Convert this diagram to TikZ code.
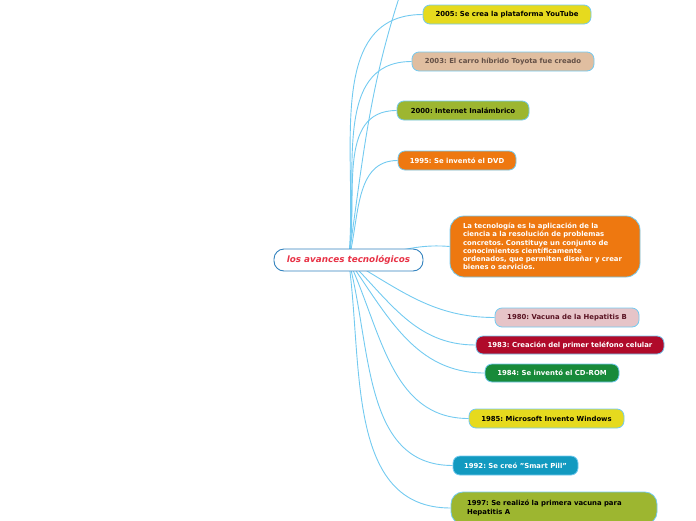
\documentclass[tikz,border=0pt]{standalone}
\usepackage{fontspec}
\setmainfont{DejaVu Sans}
\usetikzlibrary{positioning, backgrounds}
\definecolor{linkblue}{RGB}{115,202,240}
\definecolor{rootblue}{RGB}{50,130,190}
\definecolor{rootred}{RGB}{232,50,70}
\definecolor{yellow1}{RGB}{230,218,30}
\definecolor{tan1}{RGB}{224,190,160}
\definecolor{tantext}{RGB}{100,80,70}
\definecolor{olive1}{RGB}{157,182,48}
\definecolor{orange1}{RGB}{238,120,16}
\definecolor{pink1}{RGB}{230,196,200}
\definecolor{pinktext}{RGB}{90,20,35}
\definecolor{crimson1}{RGB}{176,10,42}
\definecolor{green1}{RGB}{24,138,58}
\definecolor{teal1}{RGB}{18,154,192}
\hyphenpenalty=10000
\frenchspacing

\begin{document}
\begin{tikzpicture}[x=1pt, y=-1pt,
  evbox/.style={draw=linkblue, line width=0.8pt, rounded corners=7pt, minimum height=19pt, inner sep=0pt,
                font=\fontsize{6.9}{8.2}\selectfont\bfseries},
  link/.style={draw=linkblue, line width=0.9pt}
]
  \useasboundingbox (0,0) rectangle (696,520);
  % central topic
  \node[draw=rootblue, line width=0.9pt, fill=white, rounded corners=10pt, minimum width=149pt, minimum height=22pt, inner sep=0pt,
        font=\fontsize{8.8}{10}\selectfont\bfseries\itshape, text=rootred] (root) at (348.5,260) {los avances tecnológicos};
  \coordinate (top) at (412,-40);

  % events
  \node[evbox, fill=yellow1, minimum width=168pt] (yt) at (507,14.5) {2005: Se crea la plataforma YouTube};
  \node[evbox, fill=tan1, text=tantext, minimum width=182pt] (toy) at (503,61.5) {2003: El carro híbrido Toyota fue creado};
  \node[evbox, fill=olive1, minimum width=132pt] (inet) at (463,110.5) {2000: Internet Inalámbrico};
  \node[evbox, fill=orange1, text=white, minimum width=118pt] (dvd) at (457,160.5) {1995: Se inventó el DVD};
  \node[evbox, fill=orange1, text=white, rounded corners=14pt, minimum width=190pt, minimum height=61pt,
        text width=164pt, align=left] (info) at (545,246.5)
        {La tecnología es la aplicación de la\\ ciencia a la resolución de problemas\\ concretos. Constituye un conjunto de\\ conocimientos científicamente\\ ordenados, que permiten diseñar y crear\\ bienes o servicios.};
  \node[evbox, fill=pink1, text=pinktext, minimum width=144pt] (hepb) at (567,317.5) {1980: Vacuna de la Hepatitis B};
  \node[evbox, fill=crimson1, text=white, minimum width=188pt, minimum height=18pt] (cel) at (570,345) {1983: Creación del primer teléfono celular};
  \node[evbox, fill=green1, text=white, minimum width=134pt, minimum height=18pt] (cd) at (552,373) {1984: Se inventó el CD-ROM};
  \node[evbox, fill=yellow1, minimum width=155pt] (win) at (546.5,418.5) {1985: Microsoft Invento Windows};
  \node[evbox, fill=teal1, text=white, minimum width=125pt] (pill) at (515.5,465.5) {1992: Se creó "Smart Pill"};
  \node[evbox, fill=olive1, rounded corners=12pt, minimum width=206pt, minimum height=32pt,
        text width=174pt, align=left] (hepa) at (554,508) {1997: Se realizó la primera vacuna para\\ Hepatitis A};

  % connectors
  \begin{scope}[on background layer]
    \draw[link] (root.center) to[out=82, in=250] (top);
    \draw[link] (root.center) to[out=84, in=180] (yt.west);
    \draw[link] (root.center) to[out=82, in=180] (toy.west);
    \draw[link] (root.center) to[out=80, in=180] (inet.west);
    \draw[link] (root.center) to[out=75, in=180] (dvd.west);
    \draw[link] (root.center) to[out=5, in=175] (info.west);
    \draw[link] (root.center) to[out=-30, in=180] (hepb.west);
    \draw[link] (root.center) to[out=-45, in=180] (cel.west);
    \draw[link] (root.center) to[out=-55, in=180] (cd.west);
    \draw[link] (root.center) to[out=-65, in=180] (win.west);
    \draw[link] (root.center) to[out=-75, in=180] (pill.west);
    \draw[link] (root.center) to[out=-82, in=180] (hepa.west);
  \end{scope}
\end{tikzpicture}
\end{document}
